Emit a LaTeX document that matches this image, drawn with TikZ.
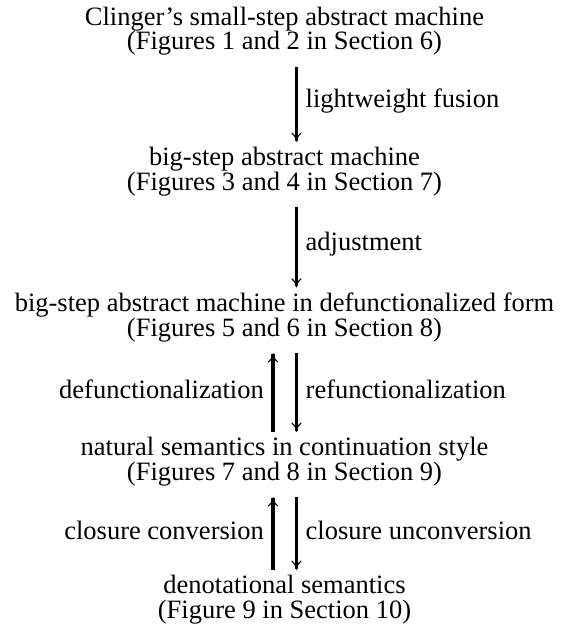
\documentclass[tikz,border=0pt]{standalone}
\usepackage{fontspec}
\setmainfont{Liberation Serif}
\usetikzlibrary{arrows.meta}

\tikzset{
  stage/.style={align=center, inner sep=0pt, anchor=base,
    font=\fontsize{12pt}{11.3pt}\selectfont},
  lbl/.style={font=\fontsize{12pt}{11.3pt}\selectfont, inner sep=3.5pt},
  arr/.style={line width=1.4pt, -{To[line width=0.5pt, length=4.2pt, width=4.6pt]}},
  arrdown/.style={arr, shorten <=5pt, shorten >=2pt},
  arrup/.style={arr, shorten <=2pt, shorten >=5pt},
}

\begin{document}
\begin{tikzpicture}[x=0.4528pt, y=-0.4528pt]
  \useasboundingbox (0,0) rectangle (569,630);
  % the five stages (base = second line)
  \node[stage] (clinger) at (284.5,50) {Clinger's small-step abstract machine\\(Figures 1 and 2 in Section 6)};
  \node[stage] (bigstep) at (284.5,190) {big-step abstract machine\\(Figures 3 and 4 in Section 7)};
  \node[stage] (defunc) at (284.5,336) {big-step abstract machine in defunctionalized form\\(Figures 5 and 6 in Section 8)};
  \node[stage] (natsem) at (284.5,480) {natural semantics in continuation style\\(Figures 7 and 8 in Section 9)};
  \node[stage] (denot) at (284.5,618) {denotational semantics\\(Figure 9 in Section 10)};
  % transformations
  \draw[arrdown] ([xshift=5.4pt]clinger.south) -- node[lbl,right] {lightweight fusion} ([xshift=5.4pt]bigstep.north);
  \draw[arrdown] ([xshift=5.4pt]bigstep.south) -- node[lbl,right] {adjustment} ([xshift=5.4pt]defunc.north);
  \draw[arrup] ([xshift=-5.2pt]natsem.north) -- node[lbl,left] {defunctionalization} ([xshift=-5.2pt]defunc.south);
  \draw[arrdown] ([xshift=5.4pt]defunc.south) -- node[lbl,right] {refunctionalization} ([xshift=5.4pt]natsem.north);
  \draw[arrup] ([xshift=-5.2pt]denot.north) -- node[lbl,left] {closure conversion} ([xshift=-5.2pt]natsem.south);
  \draw[arrdown] ([xshift=5.4pt]natsem.south) -- node[lbl,right] {closure unconversion} ([xshift=5.4pt]denot.north);
\end{tikzpicture}
\end{document}
